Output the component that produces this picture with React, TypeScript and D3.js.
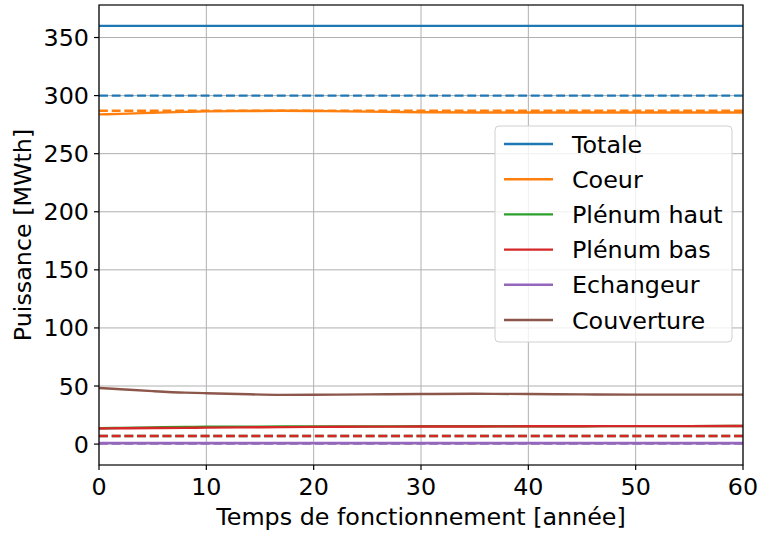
import * as d3 from 'd3';

const years = [0, 2, 5, 8, 10, 13, 17, 20, 25, 30, 35, 40, 45, 50, 55, 60];

const totale = [360, 360, 360, 360, 360, 360, 360, 360, 360, 360, 360, 360, 360, 360, 360, 360];
const coeur = [283.8, 284.3, 285.2, 286, 286.4, 286.7, 286.9, 286.7, 286.2, 285.7, 285.4, 285.4, 285.4, 285.4, 285.4, 285.4];
const plenumHaut = [13.6, 14, 14.4, 14.7, 14.9, 15, 15.1, 15.1, 15.2, 15.3, 15.3, 15.4, 15.4, 15.5, 15.5, 15.6];
const plenumBas = [13.4, 13.6, 13.8, 14, 14.2, 14.4, 14.6, 14.8, 15, 15.1, 15.2, 15.3, 15.4, 15.5, 15.5, 15.6];
const echangeur = [1, 1, 1, 1, 1, 1, 1, 1, 1, 1, 1, 1, 1, 1, 1, 1];
const couverture = [48.3, 47.2, 45.6, 44.3, 43.8, 43.1, 42.4, 42.5, 42.8, 43.1, 43.3, 43.1, 42.8, 42.6, 42.6, 42.6];

// nominal values (dashed references)
const refTotale = 300;
const refCoeur = 287;
const refPlenumHaut = 7;
const refPlenumBas = 7;
const refEchangeur = 0.5;

const labels = ['Totale', 'Coeur', 'Plénum haut', 'Plénum bas', 'Echangeur', 'Couverture'];
const colors = ['#1f77b4', '#ff7f0e', '#2ca02c', '#d62728', '#9467bd', '#8c564b'];
const series = [totale, coeur, plenumHaut, plenumBas, echangeur, couverture];
const refs: [number, number][] = [
  [refTotale, 0],
  [refCoeur, 1],
  [refPlenumHaut, 2],
  [refPlenumBas, 3],
  [refEchangeur, 4],
];

const xTicks = [0, 10, 20, 30, 40, 50, 60];
const yTicks = [0, 50, 100, 150, 200, 250, 300, 350];

const W = 759;
const H = 533;
const left = 99;
const right = 743;
const top = 5;
const bottom = 465;
const fs = 23.8;

const App = () => {
  const x = d3.scaleLinear().domain([0, 60]).range([left, right]);
  const y = d3.scaleLinear().domain([-18, 378]).range([bottom, top]);
  const line = d3
    .line<number>()
    .x((_d, i) => x(years[i]))
    .y((d) => y(d))
    .curve(d3.curveMonotoneX);

  const font = 'DejaVu Sans, sans-serif';

  return (
    <svg width={W} height={H} style={{ position: 'absolute', left: 0, top: 0 }} fontFamily={font}>
      <rect width={W} height={H} fill="white" />
      <defs>
        <clipPath id="plot">
          <rect x={left} y={top} width={right - left} height={bottom - top} />
        </clipPath>
      </defs>
      {/* grid */}
      {xTicks.map((t) => (
        <line key={'gx' + t} x1={x(t)} x2={x(t)} y1={top} y2={bottom} stroke="#b0b0b0" strokeWidth={1} />
      ))}
      {yTicks.map((t) => (
        <line key={'gy' + t} x1={left} x2={right} y1={y(t)} y2={y(t)} stroke="#b0b0b0" strokeWidth={1} />
      ))}
      <g clipPath="url(#plot)">
        {series.map((s, i) => (
          <path key={'s' + i} d={line(s) as string} fill="none" stroke={colors[i]} strokeWidth={2.4} />
        ))}
        {refs.map(([v, ci]) => (
          <line
            key={'r' + ci}
            x1={x(0)}
            x2={x(60)}
            y1={y(v)}
            y2={y(v)}
            stroke={colors[ci]}
            strokeWidth={2.4}
            strokeDasharray="8.9,3.8"
          />
        ))}
      </g>
      {/* frame */}
      <rect x={left} y={top} width={right - left} height={bottom - top} fill="none" stroke="black" strokeWidth={1.2} />
      {/* x axis */}
      {xTicks.map((t) => (
        <g key={'xt' + t}>
          <line x1={x(t)} x2={x(t)} y1={bottom} y2={bottom + 5} stroke="black" strokeWidth={1.2} />
          <text x={x(t)} y={bottom + 30} textAnchor="middle" fontSize={fs}>
            {t}
          </text>
        </g>
      ))}
      {yTicks.map((t) => (
        <g key={'yt' + t}>
          <line x1={left - 5} x2={left} y1={y(t)} y2={y(t)} stroke="black" strokeWidth={1.2} />
          <text x={left - 10} y={y(t) + 8.5} textAnchor="end" fontSize={fs}>
            {t}
          </text>
        </g>
      ))}
      <text x={(left + right) / 2} y={525} textAnchor="middle" fontSize={fs}>
        Temps de fonctionnement [année]
      </text>
      <text
        transform={`translate(31, ${(top + bottom) / 2}) rotate(-90)`}
        textAnchor="middle"
        fontSize={fs}
      >
        Puissance [MWth]
      </text>
      {/* legend */}
      <rect x={495} y={126} width={237} height={216} rx={4} fill="white" fillOpacity={0.8} stroke="#d0d0d0" />
      {labels.map((l, i) => (
        <g key={'lg' + i}>
          <line x1={504} x2={553} y1={144 + i * 35.2} y2={144 + i * 35.2} stroke={colors[i]} strokeWidth={2.4} />
          <text x={572} y={144 + i * 35.2 + 8.5} fontSize={fs}>
            {l}
          </text>
        </g>
      ))}
    </svg>
  );
};

export default App;
